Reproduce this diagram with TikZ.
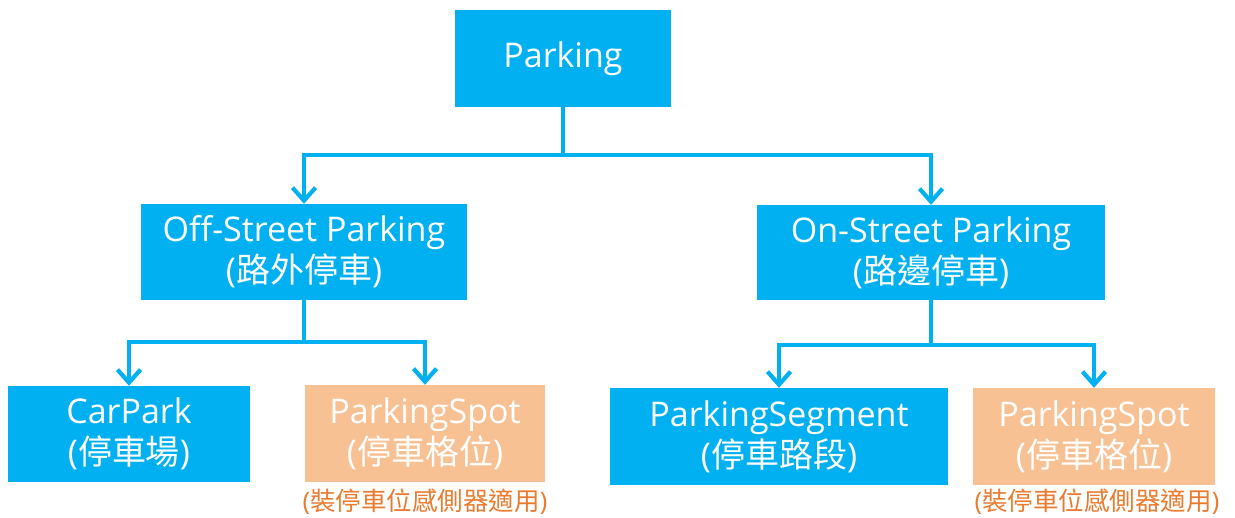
\documentclass[tikz,border=0pt]{standalone}
\usepackage{fontspec}
\setmainfont{Open Sans}
\newfontfamily\cjk{Noto Sans CJK TC}
\usetikzlibrary{arrows.meta}
\definecolor{cyanbox}{HTML}{00B0F0}
\definecolor{orangebox}{HTML}{F8C193}
\definecolor{orangetext}{HTML}{E97A2E}
\tikzset{
  box/.style={fill=cyanbox, draw=none, text=white, inner sep=0pt, align=center,
    font=\fontsize{34}{41}\selectfont},
  obox/.style={box, fill=orangebox},
  conn/.style={draw=cyanbox, line width=4.2pt, line join=miter},
  arr/.style={conn, -{Straight Barb[length=13pt,width=23pt,line width=4.2pt]}},
  note/.style={text=orangetext, inner sep=0pt, font=\fontsize{25.5}{30}\selectfont}
}
\begin{document}
\begin{tikzpicture}[x=1pt,y=-1pt]
\useasboundingbox (0,0) rectangle (1235,518);
\node[box, minimum width=216pt, minimum height=97pt] (parking) at (563,58.5) {Parking};
\node[box, minimum width=326pt, minimum height=96pt] (off) at (304,252) {Off-Street Parking\\({\cjk 路外停車})};
\node[box, minimum width=348pt, minimum height=95pt] (on) at (931,252.5) {On-Street Parking\\({\cjk 路邊停車})};
\node[box, minimum width=242pt, minimum height=96pt] (carpark) at (129,434) {CarPark\\({\cjk 停車場})};
\node[obox, minimum width=240pt, minimum height=97pt] (spot1) at (425,433.5) {ParkingSpot\\({\cjk 停車格位})};
\node[box, minimum width=338pt, minimum height=97pt] (segment) at (779,436.5) {ParkingSegment\\({\cjk 停車路段})};
\node[obox, minimum width=242pt, minimum height=97pt] (spot2) at (1094,436.5) {ParkingSpot\\({\cjk 停車格位})};
\node[note] (note1) at (425,502) {({\cjk 裝停車位感側器適用})};
\node[note] (note2) at (1097,502) {({\cjk 裝停車位感側器適用})};
\coordinate (j1) at (563,155);
\coordinate (j2) at (304,342);
\coordinate (j3) at (931,345);
\draw[conn] (parking.south) -- (j1);
\draw[arr] (j1) -| (off.north);
\draw[arr] (j1) -| (on.north);
\draw[conn] (off.south) -- (j2);
\draw[arr] (j2) -| (carpark.north);
\draw[arr] (j2) -| (spot1.north);
\draw[conn] (on.south) -- (j3);
\draw[arr] (j3) -| (segment.north);
\draw[arr] (j3) -| (spot2.north);
\end{tikzpicture}
\end{document}
